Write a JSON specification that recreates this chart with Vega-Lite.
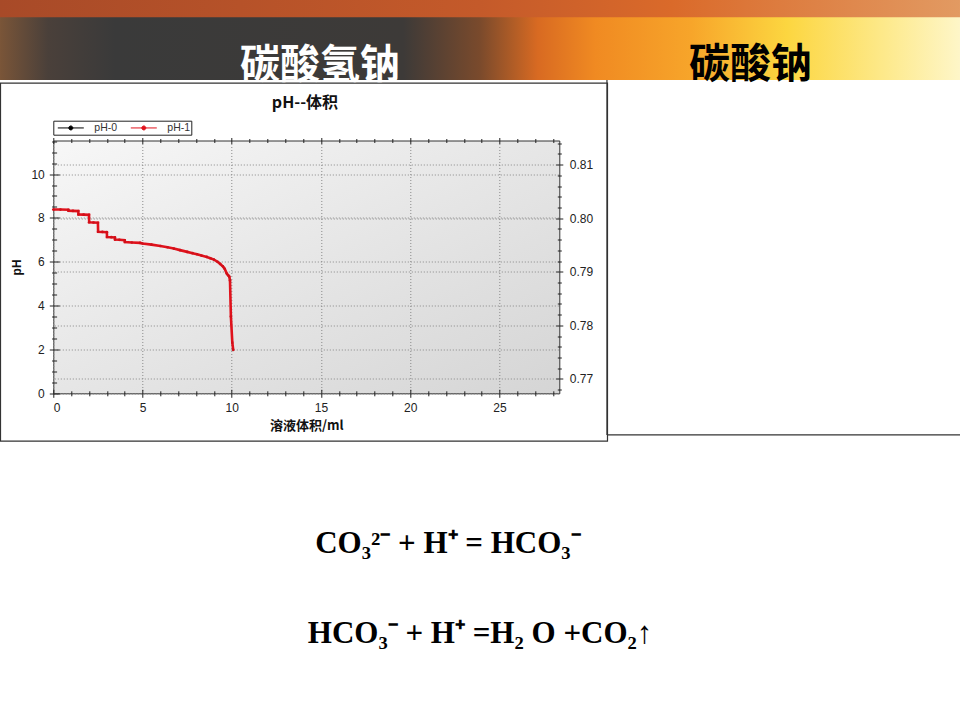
{
  "$schema": "https://vega.github.io/schema/vega-lite/v6.json",
  "width": 506,
  "height": 252.8,
  "autosize": {"type": "none"},
  "padding": {"left": 53.3, "top": 140.5, "right": 400.7, "bottom": 326.7},
  "background": "white",
  "view": {
    "stroke": "#333",
    "strokeWidth": 1,
    "fill": {"gradient": "linear", "x1": 0, "y1": 0, "x2": 1, "y2": 1, "stops": [{"offset": 0, "color": "#f7f7f7"}, {"offset": 1, "color": "#d5d5d5"}]}
  },
  "config": {
    "font": "Liberation Sans",
    "axis": {"domain": false, "labelFont": "Liberation Sans", "labelFontSize": 12, "labelColor": "#222", "tickColor": "#222", "tickWidth": 1, "gridColor": "#888", "gridDash": [1, 2], "gridWidth": 1}
  },
  "datasets": {
    "ph1": [
      {"vol": 0, "ph": 8.38, "series": "pH-1"},
      {"vol": 0.4, "ph": 8.38, "series": "pH-1"},
      {"vol": 0.84, "ph": 8.37, "series": "pH-1"},
      {"vol": 0.85, "ph": 8.33, "series": "pH-1"},
      {"vol": 1.1, "ph": 8.32, "series": "pH-1"},
      {"vol": 1.4, "ph": 8.31, "series": "pH-1"},
      {"vol": 1.41, "ph": 8.16, "series": "pH-1"},
      {"vol": 1.7, "ph": 8.15, "series": "pH-1"},
      {"vol": 2.0, "ph": 8.14, "series": "pH-1"},
      {"vol": 2.01, "ph": 7.8, "series": "pH-1"},
      {"vol": 2.25, "ph": 7.79, "series": "pH-1"},
      {"vol": 2.5, "ph": 7.78, "series": "pH-1"},
      {"vol": 2.51, "ph": 7.37, "series": "pH-1"},
      {"vol": 2.75, "ph": 7.36, "series": "pH-1"},
      {"vol": 3.0, "ph": 7.35, "series": "pH-1"},
      {"vol": 3.01, "ph": 7.13, "series": "pH-1"},
      {"vol": 3.25, "ph": 7.12, "series": "pH-1"},
      {"vol": 3.45, "ph": 7.11, "series": "pH-1"},
      {"vol": 3.46, "ph": 7.01, "series": "pH-1"},
      {"vol": 3.7, "ph": 7.0, "series": "pH-1"},
      {"vol": 4.0, "ph": 6.98, "series": "pH-1"},
      {"vol": 4.01, "ph": 6.9, "series": "pH-1"},
      {"vol": 4.4, "ph": 6.88, "series": "pH-1"},
      {"vol": 4.86, "ph": 6.86, "series": "pH-1"},
      {"vol": 5.0, "ph": 6.83, "series": "pH-1"},
      {"vol": 5.5, "ph": 6.78, "series": "pH-1"},
      {"vol": 6.0, "ph": 6.72, "series": "pH-1"},
      {"vol": 6.4, "ph": 6.66, "series": "pH-1"},
      {"vol": 6.75, "ph": 6.6, "series": "pH-1"},
      {"vol": 7.1, "ph": 6.53, "series": "pH-1"},
      {"vol": 7.5, "ph": 6.45, "series": "pH-1"},
      {"vol": 7.8, "ph": 6.39, "series": "pH-1"},
      {"vol": 8.05, "ph": 6.34, "series": "pH-1"},
      {"vol": 8.3, "ph": 6.28, "series": "pH-1"},
      {"vol": 8.6, "ph": 6.22, "series": "pH-1"},
      {"vol": 8.8, "ph": 6.16, "series": "pH-1"},
      {"vol": 9.0, "ph": 6.1, "series": "pH-1"},
      {"vol": 9.2, "ph": 6.0, "series": "pH-1"},
      {"vol": 9.35, "ph": 5.9, "series": "pH-1"},
      {"vol": 9.5, "ph": 5.79, "series": "pH-1"},
      {"vol": 9.6, "ph": 5.68, "series": "pH-1"},
      {"vol": 9.72, "ph": 5.46, "series": "pH-1"},
      {"vol": 9.8, "ph": 5.38, "series": "pH-1"},
      {"vol": 9.86, "ph": 5.32, "series": "pH-1"},
      {"vol": 9.9, "ph": 5.15, "series": "pH-1"},
      {"vol": 9.95, "ph": 3.5, "series": "pH-1"},
      {"vol": 10.03, "ph": 2.31, "series": "pH-1"},
      {"vol": 10.08, "ph": 1.98, "series": "pH-1"}
    ],
    "ph0": [],
    "one": [{}]
  },
  "resolve": {"scale": {"y": "independent"}, "axis": {"x": "independent", "y": "independent"}},
  "layer": [
    {
      "resolve": {"axis": {"x": "independent", "y": "independent"}},
      "layer": [
        {
          "data": {"name": "one"},
          "mark": {"type": "rect", "fill": {"gradient": "linear", "x1": 0, "y1": 0, "x2": 1, "y2": 0, "stops": [
            {"offset": 0, "color": "#7a5538"}, {"offset": 0.05, "color": "#4a403a"}, {"offset": 0.12, "color": "#3a3a3a"},
            {"offset": 0.42, "color": "#3d3a38"}, {"offset": 0.5, "color": "#7a4a2c"}, {"offset": 0.56, "color": "#d86a22"},
            {"offset": 0.62, "color": "#f08a22"}, {"offset": 0.72, "color": "#f7a52a"}, {"offset": 0.82, "color": "#fcd640"},
            {"offset": 0.92, "color": "#fde98a"}, {"offset": 1, "color": "#fef6c8"}]}},
          "encoding": {
            "x": {"datum": -2.986, "type": "quantitative", "scale": {"domain": [0, 28.35], "nice": false, "zero": false}, "axis": null},
            "x2": {"datum": 50.8},
            "y": {"datum": 17.94, "type": "quantitative", "scale": {"domain": [0, 11.53], "nice": false, "zero": false}, "axis": null},
            "y2": {"datum": 14.29}
          }
        },
        {
          "data": {"name": "one"},
          "mark": {"type": "rect", "fill": {"gradient": "linear", "x1": 0, "y1": 0, "x2": 1, "y2": 0, "stops": [
            {"offset": 0, "color": "#a84a28"}, {"offset": 0.5, "color": "#c45a2a"}, {"offset": 0.7, "color": "#da6a2a"}, {"offset": 1, "color": "#e29a62"}]}},
          "encoding": {
            "x": {"datum": -2.986, "type": "quantitative", "scale": {"domain": [0, 28.35], "nice": false, "zero": false}, "axis": null},
            "x2": {"datum": 50.8},
            "y": {"datum": 17.94, "type": "quantitative", "scale": {"domain": [0, 11.53], "nice": false, "zero": false}, "axis": null},
            "y2": {"datum": 17.15}
          }
        },
        {
          "data": {"name": "one"},
          "mark": {"type": "rect", "fill": null, "stroke": "#333", "strokeWidth": 1.2},
          "encoding": {
            "x": {"datum": -2.958, "type": "quantitative", "scale": {"domain": [0, 28.35], "nice": false, "zero": false}, "axis": null},
            "x2": {"datum": 31.05},
            "y": {"datum": 14.15, "type": "quantitative", "scale": {"domain": [0, 11.53], "nice": false, "zero": false}, "axis": null},
            "y2": {"datum": -2.18}
          }
        },
        {
          "data": {"name": "one"},
          "mark": {"type": "rule", "stroke": "#333", "strokeWidth": 1.2},
          "encoding": {
            "x": {"datum": 31.02, "type": "quantitative", "scale": {"domain": [0, 28.35], "nice": false, "zero": false}, "axis": null},
            "y": {"datum": 14.29, "type": "quantitative", "scale": {"domain": [0, 11.53], "nice": false, "zero": false}, "axis": null},
            "y2": {"datum": -1.9}
          }
        },
        {
          "data": {"name": "one"},
          "mark": {"type": "rule", "stroke": "#333", "strokeWidth": 1.2},
          "encoding": {
            "x": {"datum": 31.02, "type": "quantitative", "scale": {"domain": [0, 28.35], "nice": false, "zero": false}, "axis": null},
            "x2": {"datum": 50.85},
            "y": {"datum": -1.9, "type": "quantitative", "scale": {"domain": [0, 11.53], "nice": false, "zero": false}, "axis": null}
          }
        },
        {
          "data": {"name": "one"},
          "mark": {"type": "text", "text": "碳酸氢钠", "font": "Noto Sans CJK SC", "fontSize": 40, "fontWeight": "bold", "color": "white", "align": "center", "baseline": "alphabetic"},
          "encoding": {
            "x": {"datum": 14.94, "type": "quantitative", "scale": {"domain": [0, 28.35], "nice": false, "zero": false}, "axis": null},
            "y": {"datum": 14.38, "type": "quantitative", "scale": {"domain": [0, 11.53], "nice": false, "zero": false}, "axis": null}
          }
        },
        {
          "data": {"name": "one"},
          "mark": {"type": "text", "text": "碳酸钠", "font": "Noto Sans CJK SC", "fontSize": 41, "fontWeight": "bold", "color": "black", "align": "center", "baseline": "alphabetic"},
          "encoding": {
            "x": {"datum": 39.06, "type": "quantitative", "scale": {"domain": [0, 28.35], "nice": false, "zero": false}, "axis": null},
            "y": {"datum": 14.4, "type": "quantitative", "scale": {"domain": [0, 11.53], "nice": false, "zero": false}, "axis": null}
          }
        },
        {
          "data": {"name": "one"},
          "mark": {"type": "text", "text": "pH--体积", "font": "Noto Sans CJK SC", "fontSize": 16, "fontWeight": "bold", "color": "#111", "align": "center", "baseline": "alphabetic"},
          "encoding": {
            "x": {"datum": 14.1, "type": "quantitative", "scale": {"domain": [0, 28.35], "nice": false, "zero": false}, "axis": null},
            "y": {"datum": 13.01, "type": "quantitative", "scale": {"domain": [0, 11.53], "nice": false, "zero": false}, "axis": null}
          }
        },
        {
          "data": {"name": "one"},
          "mark": {"type": "text", "text": "CO₃²⁻  + H⁺ = HCO₃⁻", "font": "Liberation Serif", "fontSize": 31, "fontWeight": "bold", "color": "black", "align": "center", "baseline": "alphabetic"},
          "encoding": {
            "x": {"datum": 22.11, "type": "quantitative", "scale": {"domain": [0, 28.35], "nice": false, "zero": false}, "axis": null},
            "y": {"datum": -7.3, "type": "quantitative", "scale": {"domain": [0, 11.53], "nice": false, "zero": false}, "axis": null}
          }
        },
        {
          "data": {"name": "one"},
          "mark": {"type": "text", "text": "HCO₃⁻  + H⁺ =H₂ O +CO₂↑", "font": "Liberation Serif", "fontSize": 31, "fontWeight": "bold", "color": "black", "align": "center", "baseline": "alphabetic"},
          "encoding": {
            "x": {"datum": 23.91, "type": "quantitative", "scale": {"domain": [0, 28.35], "nice": false, "zero": false}, "axis": null},
            "y": {"datum": -11.4, "type": "quantitative", "scale": {"domain": [0, 11.53], "nice": false, "zero": false}, "axis": null}
          }
        },
        {
          "data": {"name": "ph1"},
          "mark": {"type": "line", "strokeWidth": 2.6, "interpolate": "linear"},
          "encoding": {
            "x": {"field": "vol", "type": "quantitative", "scale": {"domain": [0, 28.35], "nice": false, "zero": false},
              "axis": {"orient": "bottom", "values": [0, 5, 10, 15, 20, 25], "ticks": false, "tickSize": 0, "labelPadding": 9, "grid": true,
                "title": "溶液体积/ml", "titleFont": "Noto Sans CJK SC", "titleFontSize": 13, "titleFontWeight": "bold", "titleColor": "#111", "titlePadding": 6}},
            "y": {"field": "ph", "type": "quantitative", "scale": {"domain": [0, 11.53], "nice": false, "zero": false},
              "axis": {"orient": "left", "values": [0, 2, 4, 6, 8, 10], "ticks": false, "tickSize": 0, "labelPadding": 9, "grid": true,
                "title": "pH", "titleFont": "Liberation Sans", "titleFontSize": 12, "titleFontWeight": "bold", "titleColor": "#111", "titlePadding": 7}},
            "color": {"field": "series", "type": "nominal",
              "scale": {"domain": ["pH-0", "pH-1"], "range": ["#000000", "#e0121c"]},
              "legend": {"orient": "none", "legendX": 0, "legendY": -19.8, "direction": "horizontal", "title": null,
                "strokeColor": "#222", "fillColor": "#ffffff", "padding": 1,
                "symbolType": "M-0.4545,0L4.273,0M2.273,0A0.364,0.364,0,1,1,1.545,0A0.364,0.364,0,1,1,2.273,0Z",
                "symbolSize": 121, "symbolStrokeWidth": 1,
                "labelFont": "Liberation Sans", "labelFontSize": 10.5, "labelColor": "#333", "labelOffset": 28, "columnPadding": 10,
                "encode": {"symbols": {"update": {"fill": {"scale": "color", "field": "value"}, "stroke": {"scale": "color", "field": "value"}}}}}}
          }
        },
        {
          "data": {"name": "ph1"},
          "mark": {"type": "point", "filled": true, "size": 7, "color": "#d0101a", "opacity": 1},
          "encoding": {
            "x": {"field": "vol", "type": "quantitative", "scale": {"domain": [0, 28.35], "nice": false, "zero": false},
              "axis": {"orient": "bottom", "values": [0, 5, 10, 15, 20, 25], "labels": false, "grid": false, "tickSize": 8, "offset": -4, "title": null}},
            "y": {"field": "ph", "type": "quantitative", "scale": {"domain": [0, 11.53], "nice": false, "zero": false},
              "axis": {"orient": "left", "values": [0, 2, 4, 6, 8, 10], "labels": false, "grid": false, "tickSize": 10, "offset": -6, "title": null}}
          }
        },
        {
          "data": {"name": "ph0"},
          "mark": {"type": "point"},
          "encoding": {
            "x": {"field": "vol", "type": "quantitative", "scale": {"domain": [0, 28.35], "nice": false, "zero": false},
              "axis": {"orient": "bottom", "values": [1, 2, 3, 4, 6, 7, 8, 9, 11, 12, 13, 14, 16, 17, 18, 19, 21, 22, 23, 24, 26, 27, 28], "labels": false, "grid": false, "tickSize": 5, "offset": -2.5, "title": null}},
            "y": {"field": "ph", "type": "quantitative", "scale": {"domain": [0, 11.53], "nice": false, "zero": false},
              "axis": {"orient": "left", "values": [0.5, 1, 1.5, 2.5, 3, 3.5, 4.5, 5, 5.5, 6.5, 7, 7.5, 8.5, 9, 9.5, 10.5, 11, 11.5], "labels": false, "grid": false, "tickSize": 5, "offset": -3.3, "title": null}}
          }
        }
      ]
    },
    {
      "resolve": {"axis": {"x": "independent", "y": "independent"}},
      "layer": [
        {
          "data": {"name": "ph0"},
          "mark": {"type": "point"},
          "encoding": {
            "x": {"field": "vol", "type": "quantitative", "scale": {"domain": [0, 28.35], "nice": false, "zero": false},
              "axis": {"orient": "top", "values": [0, 5, 10, 15, 20, 25], "labels": false, "grid": false, "tickSize": 6, "offset": -3, "title": null}},
            "y": {"field": "v0", "type": "quantitative", "scale": {"domain": [0.76733, 0.8145], "nice": false, "zero": false},
              "axis": {"orient": "right", "values": [0.77, 0.78, 0.79, 0.8, 0.81], "format": ".2f", "ticks": false, "tickSize": 0, "labelPadding": 10, "grid": true, "title": null}}
          }
        },
        {
          "data": {"name": "ph0"},
          "mark": {"type": "point"},
          "encoding": {
            "x": {"field": "vol", "type": "quantitative", "scale": {"domain": [0, 28.35], "nice": false, "zero": false},
              "axis": {"orient": "top", "values": [1, 2, 3, 4, 6, 7, 8, 9, 11, 12, 13, 14, 16, 17, 18, 19, 21, 22, 23, 24, 26, 27, 28], "labels": false, "grid": false, "tickSize": 4, "offset": -2, "title": null}},
            "y": {"field": "v0", "type": "quantitative", "scale": {"domain": [0.76733, 0.8145], "nice": false, "zero": false},
              "axis": {"orient": "right", "values": [0.77, 0.78, 0.79, 0.8, 0.81], "labels": false, "grid": false, "tickSize": 7, "offset": -3.5, "title": null}}
          }
        },
        {
          "data": {"name": "ph0"},
          "mark": {"type": "point"},
          "encoding": {
            "x": {"field": "vol", "type": "quantitative", "scale": {"domain": [0, 28.35], "nice": false, "zero": false}, "axis": null},
            "y": {"field": "v0", "type": "quantitative", "scale": {"domain": [0.76733, 0.8145], "nice": false, "zero": false},
              "axis": {"orient": "right", "values": [0.768, 0.772, 0.774, 0.776, 0.778, 0.782, 0.784, 0.786, 0.788, 0.792, 0.794, 0.796, 0.798, 0.802, 0.804, 0.806, 0.808, 0.812, 0.814], "labels": false, "grid": false, "tickSize": 4, "offset": -2, "title": null}}
          }
        }
      ]
    }
  ]
}
